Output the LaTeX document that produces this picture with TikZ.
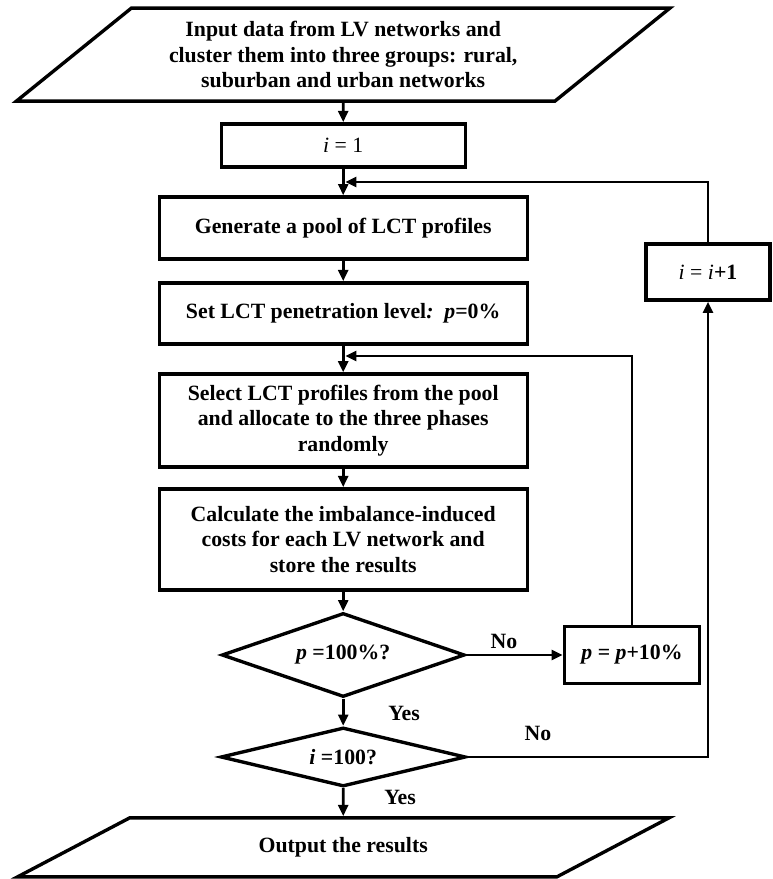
\documentclass[tikz,border=0pt]{standalone}
\usepackage{fontspec}
\setmainfont{Liberation Serif}
\usetikzlibrary{shapes.geometric, arrows.meta, calc}

\begin{document}
\begin{tikzpicture}[scale=1.0,
    font=\fontsize{15.5pt}{18pt}\selectfont\bfseries,
    procbox/.style={draw, line width=2.4pt, rectangle, align=center, minimum width=9.2cm, inner sep=0pt},
    iobox/.style={draw, line width=2.4pt, trapezium, trapezium stretches=true, align=center, inner sep=0pt},
    decbox/.style={draw, line width=2.4pt, diamond, align=center, inner sep=0pt},
    flow/.style={-{Triangle[length=8pt,width=7pt]}, line width=2pt}]
    \useasboundingbox (0,0) rectangle (19.325,21.975);
    % main column
    \node[iobox, trapezium left angle=35, trapezium right angle=145, minimum width=16.375cm, minimum height=2.325cm] (input) at (8.58,20.61) {Input data from LV networks and\\cluster them into three groups: rural,\\suburban and urban networks};
    \node[procbox, minimum width=6.1cm, minimum height=1.075cm] (init) at (8.58,18.34) {{\mdseries\textit{i} = 1}};
    \node[procbox, minimum height=1.55cm] (pool) at (8.58,16.275) {Generate a pool of LCT profiles};
    \node[procbox, minimum height=1.525cm] (setp) at (8.58,14.14) {Set LCT penetration level\textit{:}\, \textit{p}=0\%};
    \node[procbox, minimum height=2.325cm] (alloc) at (8.58,11.46) {Select LCT profiles from the pool\\and allocate to the three phases\\randomly};
    \node[procbox, minimum height=2.525cm] (cost) at (8.58,8.49) {Calculate the imbalance-induced\\costs for each LV network and\\store the results};
    \node[decbox, aspect=2.9, minimum width=6.075cm, minimum height=2.1cm] (pchk) at (8.58,5.6) {\textit{p} =100\%?};
    \node[decbox, aspect=4.15, minimum width=6.125cm, minimum height=1.475cm] (ichk) at (8.58,3.05) {\textit{i} =100?};
    \node[iobox, trapezium left angle=24, trapezium right angle=156, minimum width=16.3cm, minimum height=1.475cm] (output) at (8.58,0.79) {Output the results};
    % loop boxes
    \node[procbox, minimum width=3.375cm, minimum height=1.425cm] (pinc) at (15.8,5.6) {\textit{p} = \textit{p}+10\%};
    \node[procbox, minimum width=3.1cm, minimum height=1.4cm] (iinc) at (17.7,15.175) {{\mdseries\textit{i} = \textit{i}}+1};
    \coordinate (jpool) at (8.63,17.425);
    \coordinate (jalloc) at (8.63,13.075);

    \draw[flow] (input) -- (init);
    \draw[flow] (init) -- (pool);
    \draw[flow] (pool) -- (setp);
    \draw[flow] (setp) -- (alloc);
    \draw[flow] (alloc) -- (cost);
    \draw[flow] (cost) -- (pchk);
    \draw[flow] (pchk) -- (ichk);
    \draw[flow] (ichk) -- (output);
    \draw[flow] (pchk.east) -- (pinc.west);
    \draw[flow] (pinc.north) |- (jalloc);
    \draw[flow] (ichk.east) -| (iinc.south);
    \draw[flow] (iinc.north) |- (jpool);

    \node (no1) at (12.6,5.93) {No};
    \node (yes1) at (10.1,4.15) {Yes};
    \node (no2) at (13.45,3.65) {No};
    \node (yes2) at (10.0,2.05) {Yes};
\end{tikzpicture}
\end{document}
